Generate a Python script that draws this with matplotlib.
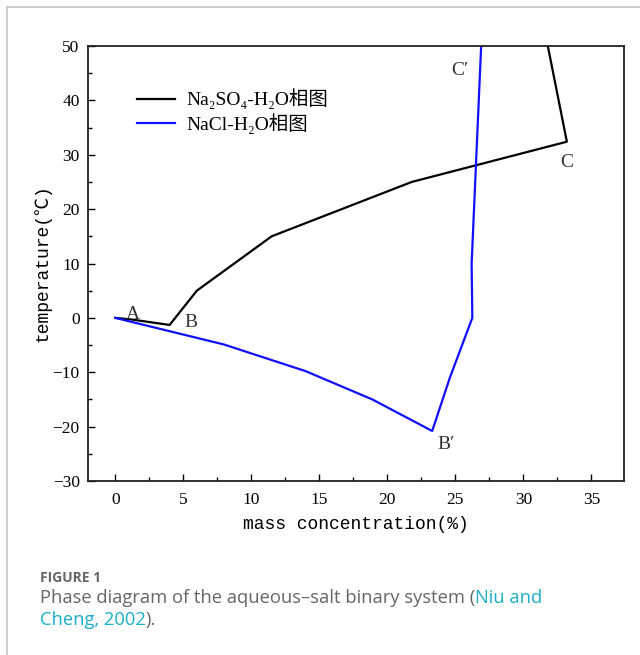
import matplotlib
matplotlib.use("Agg")
import matplotlib.pyplot as plt
from matplotlib.ticker import MultipleLocator
from matplotlib.lines import Line2D

# Data
na2so4_x = [0, 1.2, 4.0, 6.0, 11.5, 21.8, 33.2, 31.8]
na2so4_y = [0, -0.3, -1.3, 5.0, 15.0, 25.0, 32.4, 50.0]
nacl_x = [0, 8.0, 14.0, 18.9, 23.3, 24.6, 26.25, 26.2, 26.9]
nacl_y = [0, -4.9, -9.8, -15.0, -20.8, -11.0, 0.0, 10.0, 50.0]
point_labels = ["A", "B", "C", "C\u2032", "B\u2032"]
point_xy = [(1.3, 0.6), (5.6, -0.8), (33.2, 28.5), (25.3, 45.5), (24.3, -23.3)]
legend_labels = ["Na\u2082SO\u2084-H\u2082O相图", "NaCl-H\u2082O相图"]

serif = ["Liberation Serif", "DejaVu Serif", "Noto Sans CJK SC"]
mono = ["Liberation Mono", "DejaVu Sans Mono", "Noto Sans CJK SC"]

fig = plt.figure(figsize=(6.4, 6.55), dpi=100)
# card border
fig.add_artist(Line2D([7/640, 1], [1-7/655, 1-7/655], color="#c8c8c8", lw=1.2))
fig.add_artist(Line2D([7/640, 7/640], [0, 1-7/655], color="#c8c8c8", lw=1.2))

ax = fig.add_axes([88/640, 1-481/655, (624-88)/640, (481-46)/655])
ax.plot(na2so4_x, na2so4_y, color="black", lw=1.6, label=legend_labels[0])
ax.plot(nacl_x, nacl_y, color="#1010ff", lw=1.6, label=legend_labels[1])
ax.set_xlim(-2, 37.4)
ax.set_ylim(-30, 50)
ax.xaxis.set_major_locator(MultipleLocator(5))
ax.xaxis.set_minor_locator(MultipleLocator(2.5))
ax.yaxis.set_major_locator(MultipleLocator(10))
ax.yaxis.set_minor_locator(MultipleLocator(5))
ax.tick_params(which="major", direction="in", length=5, width=1.0, labelsize=12.5)
ax.tick_params(axis="y", which="major", pad=6)
ax.tick_params(axis="x", which="major", pad=8)
ax.tick_params(which="minor", direction="in", length=3, width=1.0)
for lab in ax.get_xticklabels() + ax.get_yticklabels():
    lab.set_family(serif)
for s in ax.spines.values():
    s.set_linewidth(1.3)
    s.set_color("#222222")

ax.set_xlabel("mass concentration(%)", family=mono, fontsize=13, labelpad=6)
ax.set_ylabel("temperature(℃)", family=mono, fontsize=13, labelpad=1)

for t, (x, y) in zip(point_labels, point_xy):
    ax.text(x, y, t, family=serif, fontsize=14, color="#333333", ha="center", va="center")

leg = ax.legend(loc="upper left", bbox_to_anchor=(0.058, 0.942), frameon=False,
                prop={"family": serif, "size": 14}, handlelength=2.0,
                handletextpad=0.55, labelspacing=0.2)

fig.text(40/640, 1-578/655, "FIGURE 1", family="Open Sans", fontsize=10,
         color="#666666", weight="bold", va="center")
pre = fig.text(40/640, 1-598/655, "Phase diagram of the aqueous\u2013salt binary system (",
               family="Open Sans", fontsize=13.2, color="#666666", va="center")
fig.canvas.draw()
r = fig.canvas.get_renderer()
bb = pre.get_window_extent(r)
fig.text(bb.x1/640, 1-598/655, "Niu and", family="Open Sans", fontsize=13.2,
         color="#1aaecb", va="center")
c2 = fig.text(40/640, 1-620/655, "Cheng, 2002", family="Open Sans", fontsize=13.2,
              color="#1aaecb", va="center")
bb2 = c2.get_window_extent(r)
fig.text(bb2.x1/640, 1-620/655, ").", family="Open Sans", fontsize=13.2,
         color="#666666", va="center")

fig.savefig("out.png", dpi=100)
